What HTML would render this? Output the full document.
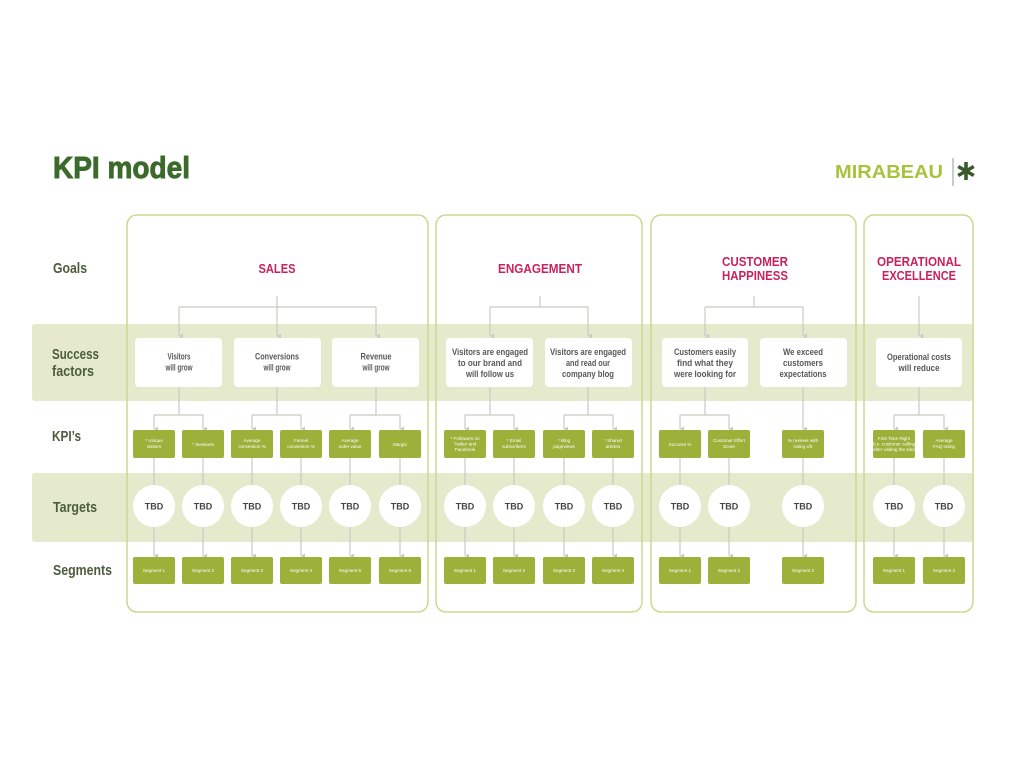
<!DOCTYPE html>
<html>
<head>
<meta charset="utf-8">
<style>
  html,body{margin:0;padding:0;background:#ffffff;}
  body{width:1024px;height:768px;overflow:hidden;}
  svg{display:block;}
  text{font-family:"Liberation Sans", sans-serif;}
  .lbl{font-size:15px;font-weight:bold;fill:#4c5c3c;}
  .goal{font-size:13px;font-weight:bold;fill:#c9215b;}
  .sf{font-size:9px;font-weight:bold;fill:#585858;}
  .kpi{font-size:4.6px;fill:#ffffff;}
  .tbd{font-size:9px;font-weight:bold;fill:#454545;}
  .ln{stroke:#c8cac3;stroke-width:1.2;fill:none;}
</style>
</head>
<body>
<svg width="1024" height="768" viewBox="0 0 1024 768" xmlns="http://www.w3.org/2000/svg">
  <defs>
    <marker id="ah" markerWidth="6" markerHeight="6" refX="3" refY="5" orient="auto" markerUnits="userSpaceOnUse">
      <path d="M0.5,1 L3,5 L5.5,1 Z" fill="#c8cac3"/>
    </marker>
  </defs>

  <!-- Title -->
  <text x="53" y="178" font-size="31" font-weight="bold" fill="#3b6a2b" stroke="#3b6a2b" stroke-width="0.9" textLength="137" lengthAdjust="spacingAndGlyphs">KPI model</text>

  <!-- Logo -->
  <text x="835" y="178" font-size="18" font-weight="bold" fill="#a6c33c" textLength="108" lengthAdjust="spacingAndGlyphs">MIRABEAU</text>
  <line x1="953" y1="158" x2="953" y2="186" stroke="#9a9a9a" stroke-width="1"/>
  <g stroke="#3b5a2b" stroke-width="3.6" stroke-linecap="butt">
    <line x1="966" y1="162" x2="966" y2="180"/>
    <line x1="958.2" y1="166.5" x2="973.8" y2="175.5"/>
    <line x1="958.2" y1="175.5" x2="973.8" y2="166.5"/>
  </g>

  <!-- Bands -->
  <rect x="32" y="324" width="941" height="77" rx="3" fill="#e5eacd"/>
  <rect x="32" y="473" width="941" height="69" rx="3" fill="#e5eacd"/>

  <!-- Panels -->
  <g fill="none" stroke="#cdd88f" stroke-width="1.5">
    <rect x="127" y="215" width="301" height="397" rx="10"/>
    <rect x="436" y="215" width="206" height="397" rx="10"/>
    <rect x="651" y="215" width="205" height="397" rx="10"/>
    <rect x="864" y="215" width="109" height="397" rx="10"/>
  </g>

  <!-- Left labels -->
  <text class="lbl" x="53" y="273" textLength="34" lengthAdjust="spacingAndGlyphs">Goals</text>
  <text class="lbl" x="52" y="359" textLength="47" lengthAdjust="spacingAndGlyphs">Success</text>
  <text class="lbl" x="52" y="376" textLength="42" lengthAdjust="spacingAndGlyphs">factors</text>
  <text class="lbl" x="52" y="441" textLength="29" lengthAdjust="spacingAndGlyphs">KPI’s</text>
  <text class="lbl" x="53" y="512" textLength="44" lengthAdjust="spacingAndGlyphs">Targets</text>
  <text class="lbl" x="53" y="575" textLength="59" lengthAdjust="spacingAndGlyphs">Segments</text>

  <!-- Goal titles -->
  <text class="goal" x="277" y="273" text-anchor="middle" textLength="37" lengthAdjust="spacingAndGlyphs">SALES</text>
  <text class="goal" x="540" y="273" text-anchor="middle" textLength="84" lengthAdjust="spacingAndGlyphs">ENGAGEMENT</text>
  <text class="goal" x="755" y="266" text-anchor="middle" textLength="66" lengthAdjust="spacingAndGlyphs">CUSTOMER</text>
  <text class="goal" x="755" y="280" text-anchor="middle" textLength="66" lengthAdjust="spacingAndGlyphs">HAPPINESS</text>
  <text class="goal" x="919" y="266" text-anchor="middle" textLength="84" lengthAdjust="spacingAndGlyphs">OPERATIONAL</text>
  <text class="goal" x="919" y="280" text-anchor="middle" textLength="74" lengthAdjust="spacingAndGlyphs">EXCELLENCE</text>

  <!-- Connectors: goals -> success factors -->
  <g class="ln">
    <path d="M277,296 V307"/>
    <path d="M179,307 H376"/>
    <path d="M179,307 V336" marker-end="url(#ah)"/>
    <path d="M277,307 V336" marker-end="url(#ah)"/>
    <path d="M376,307 V336" marker-end="url(#ah)"/>

    <path d="M540,296 V307"/>
    <path d="M490,307 H588"/>
    <path d="M490,307 V336" marker-end="url(#ah)"/>
    <path d="M588,307 V336" marker-end="url(#ah)"/>

    <path d="M754,296 V307"/>
    <path d="M705,307 H803"/>
    <path d="M705,307 V336" marker-end="url(#ah)"/>
    <path d="M803,307 V336" marker-end="url(#ah)"/>

    <path d="M919,296 V336" marker-end="url(#ah)"/>
  </g>

  <!-- Connectors: success -> KPIs -->
  <g class="ln">
    <path d="M179,387 V415 M154,415 H203"/>
    <path d="M154,415 V429" marker-end="url(#ah)"/>
    <path d="M203,415 V429" marker-end="url(#ah)"/>
    <path d="M277,387 V415 M252,415 H301"/>
    <path d="M252,415 V429" marker-end="url(#ah)"/>
    <path d="M301,415 V429" marker-end="url(#ah)"/>
    <path d="M376,387 V415 M350,415 H400"/>
    <path d="M350,415 V429" marker-end="url(#ah)"/>
    <path d="M400,415 V429" marker-end="url(#ah)"/>

    <path d="M490,387 V415 M465,415 H514"/>
    <path d="M465,415 V429" marker-end="url(#ah)"/>
    <path d="M514,415 V429" marker-end="url(#ah)"/>
    <path d="M588,387 V415 M564,415 H613"/>
    <path d="M564,415 V429" marker-end="url(#ah)"/>
    <path d="M613,415 V429" marker-end="url(#ah)"/>

    <path d="M705,387 V415 M680,415 H729"/>
    <path d="M680,415 V429" marker-end="url(#ah)"/>
    <path d="M729,415 V429" marker-end="url(#ah)"/>
    <path d="M803,387 V429" marker-end="url(#ah)"/>

    <path d="M919,387 V415 M894,415 H944"/>
    <path d="M894,415 V429" marker-end="url(#ah)"/>
    <path d="M944,415 V429" marker-end="url(#ah)"/>
  </g>

  <!-- Connectors: KPI -> target -> segment -->
  <g class="ln">
    <path d="M154,458 V485"/><path d="M154,527 V556" marker-end="url(#ah)"/>
    <path d="M203,458 V485"/><path d="M203,527 V556" marker-end="url(#ah)"/>
    <path d="M252,458 V485"/><path d="M252,527 V556" marker-end="url(#ah)"/>
    <path d="M301,458 V485"/><path d="M301,527 V556" marker-end="url(#ah)"/>
    <path d="M350,458 V485"/><path d="M350,527 V556" marker-end="url(#ah)"/>
    <path d="M400,458 V485"/><path d="M400,527 V556" marker-end="url(#ah)"/>
    <path d="M465,458 V485"/><path d="M465,527 V556" marker-end="url(#ah)"/>
    <path d="M514,458 V485"/><path d="M514,527 V556" marker-end="url(#ah)"/>
    <path d="M564,458 V485"/><path d="M564,527 V556" marker-end="url(#ah)"/>
    <path d="M613,458 V485"/><path d="M613,527 V556" marker-end="url(#ah)"/>
    <path d="M680,458 V485"/><path d="M680,527 V556" marker-end="url(#ah)"/>
    <path d="M729,458 V485"/><path d="M729,527 V556" marker-end="url(#ah)"/>
    <path d="M803,458 V485"/><path d="M803,527 V556" marker-end="url(#ah)"/>
    <path d="M894,458 V485"/><path d="M894,527 V556" marker-end="url(#ah)"/>
    <path d="M944,458 V485"/><path d="M944,527 V556" marker-end="url(#ah)"/>
  </g>

  <!-- Success factor boxes -->
  <g fill="#ffffff">
    <rect x="135" y="338" width="87" height="49" rx="4"/>
    <rect x="234" y="338" width="87" height="49" rx="4"/>
    <rect x="332" y="338" width="87" height="49" rx="4"/>
    <rect x="446" y="338" width="87" height="49" rx="4"/>
    <rect x="545" y="338" width="87" height="49" rx="4"/>
    <rect x="662" y="338" width="86" height="49" rx="4"/>
    <rect x="760" y="338" width="87" height="49" rx="4"/>
    <rect x="876" y="338" width="86" height="49" rx="4"/>
  </g>
  <g class="sf" text-anchor="middle">
    <text x="179" y="359.5" textLength="23" lengthAdjust="spacingAndGlyphs">Visitors</text>
    <text x="179" y="370.5" textLength="27" lengthAdjust="spacingAndGlyphs">will grow</text>
    <text x="277" y="359.5" textLength="44" lengthAdjust="spacingAndGlyphs">Conversions</text>
    <text x="277" y="370.5" textLength="27" lengthAdjust="spacingAndGlyphs">will grow</text>
    <text x="376" y="359.5" textLength="31" lengthAdjust="spacingAndGlyphs">Revenue</text>
    <text x="376" y="370.5" textLength="27" lengthAdjust="spacingAndGlyphs">will grow</text>

    <text x="490" y="355" font-size="9.5" textLength="76" lengthAdjust="spacingAndGlyphs">Visitors are engaged</text>
    <text x="490" y="366" font-size="9.5" textLength="64" lengthAdjust="spacingAndGlyphs">to our brand and</text>
    <text x="490" y="377" font-size="9.5" textLength="48" lengthAdjust="spacingAndGlyphs">will follow us</text>
    <text x="588" y="355" font-size="9.5" textLength="76" lengthAdjust="spacingAndGlyphs">Visitors are engaged</text>
    <text x="588" y="366" font-size="9.5" textLength="44" lengthAdjust="spacingAndGlyphs">and read our</text>
    <text x="588" y="377" font-size="9.5" textLength="52" lengthAdjust="spacingAndGlyphs">company blog</text>

    <text x="705" y="355" font-size="9.5" textLength="62" lengthAdjust="spacingAndGlyphs">Customers easily</text>
    <text x="705" y="366" font-size="9.5" textLength="56" lengthAdjust="spacingAndGlyphs">find what they</text>
    <text x="705" y="377" font-size="9.5" textLength="62" lengthAdjust="spacingAndGlyphs">were looking for</text>
    <text x="803" y="355" font-size="9.5" textLength="40" lengthAdjust="spacingAndGlyphs">We exceed</text>
    <text x="803" y="366" font-size="9.5" textLength="40" lengthAdjust="spacingAndGlyphs">customers</text>
    <text x="803" y="377" font-size="9.5" textLength="47" lengthAdjust="spacingAndGlyphs">expectations</text>

    <text x="919" y="360" font-size="9.5" textLength="64" lengthAdjust="spacingAndGlyphs">Operational costs</text>
    <text x="919" y="371" font-size="9.5" textLength="41" lengthAdjust="spacingAndGlyphs">will reduce</text>
  </g>

  <!-- KPI boxes -->
  <g fill="#9cb03a">
    <rect x="133" y="430" width="42" height="28" rx="2"/>
    <rect x="182" y="430" width="42" height="28" rx="2"/>
    <rect x="231" y="430" width="42" height="28" rx="2"/>
    <rect x="280" y="430" width="42" height="28" rx="2"/>
    <rect x="329" y="430" width="42" height="28" rx="2"/>
    <rect x="379" y="430" width="42" height="28" rx="2"/>
    <rect x="444" y="430" width="42" height="28" rx="2"/>
    <rect x="493" y="430" width="42" height="28" rx="2"/>
    <rect x="543" y="430" width="42" height="28" rx="2"/>
    <rect x="592" y="430" width="42" height="28" rx="2"/>
    <rect x="659" y="430" width="42" height="28" rx="2"/>
    <rect x="708" y="430" width="42" height="28" rx="2"/>
    <rect x="782" y="430" width="42" height="28" rx="2"/>
    <rect x="873" y="430" width="42" height="28" rx="2"/>
    <rect x="923" y="430" width="42" height="28" rx="2"/>
  </g>
  <g class="kpi" text-anchor="middle">
    <text x="154" y="442">* Unique</text><text x="154" y="448">visitors</text>
    <text x="203" y="446">* Sessions</text>
    <text x="252" y="442">Average</text><text x="252" y="448">conversion %</text>
    <text x="301" y="442">Funnel</text><text x="301" y="448">conversion %</text>
    <text x="350" y="442">Average</text><text x="350" y="448">order value</text>
    <text x="400" y="446">Margin</text>

    <text x="465" y="440">* Followers on</text><text x="465" y="445.5">Twitter and</text><text x="465" y="451">Facebook</text>
    <text x="514" y="442">* Email</text><text x="514" y="448">subscribers</text>
    <text x="564" y="442">* Blog</text><text x="564" y="448">pageviews</text>
    <text x="613" y="442">* Shared</text><text x="613" y="448">articles</text>

    <text x="680" y="446">Success %</text>
    <text x="729" y="442">Customer Effort</text><text x="729" y="448">Score</text>
    <text x="803" y="442">% reviews with</text><text x="803" y="448">rating x/5</text>

    <text x="894" y="440">First Time Right</text><text x="894" y="445.5">(i.e. customer calling</text><text x="894" y="451">after visiting the site)</text>
    <text x="944" y="442">Average</text><text x="944" y="448">FAQ rating</text>
  </g>

  <!-- Target circles -->
  <g fill="#ffffff">
    <circle cx="154" cy="506" r="21"/>
    <circle cx="203" cy="506" r="21"/>
    <circle cx="252" cy="506" r="21"/>
    <circle cx="301" cy="506" r="21"/>
    <circle cx="350" cy="506" r="21"/>
    <circle cx="400" cy="506" r="21"/>
    <circle cx="465" cy="506" r="21"/>
    <circle cx="514" cy="506" r="21"/>
    <circle cx="564" cy="506" r="21"/>
    <circle cx="613" cy="506" r="21"/>
    <circle cx="680" cy="506" r="21"/>
    <circle cx="729" cy="506" r="21"/>
    <circle cx="803" cy="506" r="21"/>
    <circle cx="894" cy="506" r="21"/>
    <circle cx="944" cy="506" r="21"/>
  </g>
  <g class="tbd" text-anchor="middle">
    <text x="154" y="509.5">TBD</text>
    <text x="203" y="509.5">TBD</text>
    <text x="252" y="509.5">TBD</text>
    <text x="301" y="509.5">TBD</text>
    <text x="350" y="509.5">TBD</text>
    <text x="400" y="509.5">TBD</text>
    <text x="465" y="509.5">TBD</text>
    <text x="514" y="509.5">TBD</text>
    <text x="564" y="509.5">TBD</text>
    <text x="613" y="509.5">TBD</text>
    <text x="680" y="509.5">TBD</text>
    <text x="729" y="509.5">TBD</text>
    <text x="803" y="509.5">TBD</text>
    <text x="894" y="509.5">TBD</text>
    <text x="944" y="509.5">TBD</text>
  </g>

  <!-- Segment boxes -->
  <g fill="#9cb03a">
    <rect x="133" y="557" width="42" height="27" rx="2"/>
    <rect x="182" y="557" width="42" height="27" rx="2"/>
    <rect x="231" y="557" width="42" height="27" rx="2"/>
    <rect x="280" y="557" width="42" height="27" rx="2"/>
    <rect x="329" y="557" width="42" height="27" rx="2"/>
    <rect x="379" y="557" width="42" height="27" rx="2"/>
    <rect x="444" y="557" width="42" height="27" rx="2"/>
    <rect x="493" y="557" width="42" height="27" rx="2"/>
    <rect x="543" y="557" width="42" height="27" rx="2"/>
    <rect x="592" y="557" width="42" height="27" rx="2"/>
    <rect x="659" y="557" width="42" height="27" rx="2"/>
    <rect x="708" y="557" width="42" height="27" rx="2"/>
    <rect x="782" y="557" width="42" height="27" rx="2"/>
    <rect x="873" y="557" width="42" height="27" rx="2"/>
    <rect x="923" y="557" width="42" height="27" rx="2"/>
  </g>
  <g class="kpi" text-anchor="middle">
    <text x="154" y="572">Segment 1</text>
    <text x="203" y="572">Segment 2</text>
    <text x="252" y="572">Segment 3</text>
    <text x="301" y="572">Segment 4</text>
    <text x="350" y="572">Segment 5</text>
    <text x="400" y="572">Segment 6</text>
    <text x="465" y="572">Segment 1</text>
    <text x="514" y="572">Segment 2</text>
    <text x="564" y="572">Segment 3</text>
    <text x="613" y="572">Segment 4</text>
    <text x="680" y="572">Segment 1</text>
    <text x="729" y="572">Segment 2</text>
    <text x="803" y="572">Segment 3</text>
    <text x="894" y="572">Segment 1</text>
    <text x="944" y="572">Segment 2</text>
  </g>
</svg>
</body>
</html>
